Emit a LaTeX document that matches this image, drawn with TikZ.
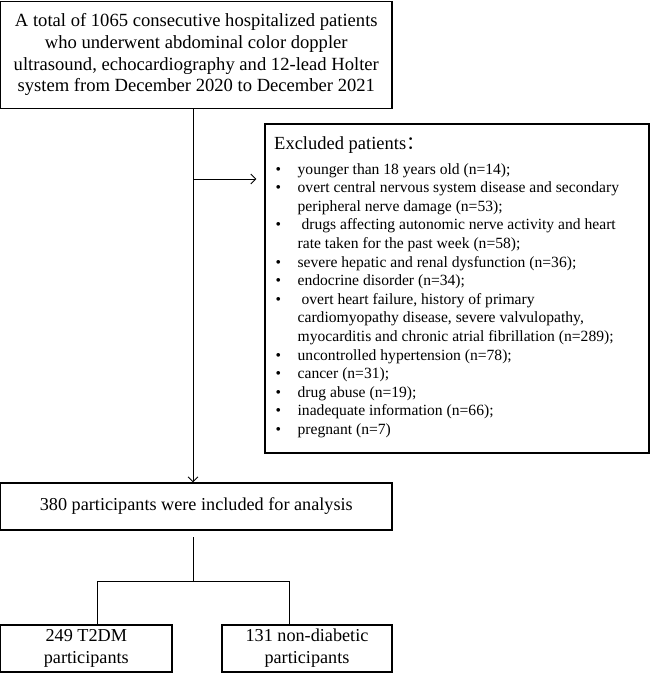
\documentclass[tikz,border=0pt]{standalone}
\usepackage{fontspec}
\setmainfont{Liberation Serif}
\newfontfamily\cjk{Noto Sans CJK SC}
\usetikzlibrary{arrows.meta}
\begin{document}
\begin{tikzpicture}[x=1pt,y=-1pt,
  box/.style={draw,line width=1.1pt,inner sep=0pt,align=center},
  conn/.style={line width=0.9pt},
  arr/.style={conn,-{Straight Barb[length=5pt,width=10pt,line width=0.9pt]}},
  bigtext/.style={font=\fontsize{18.6}{21.7}\selectfont},
  midtext/.style={font=\fontsize{18.2}{22}\selectfont}]
\useasboundingbox (0,0) rectangle (650,673);
\node[box,bigtext,minimum width=391.4pt,minimum height=107.4pt] (top) at (196.3,54.8)
  {A total of 1065 consecutive hospitalized patients\\
   who underwent abdominal color doppler\\
   ultrasound, echocardiography and 12-lead Holter\\
   system from December 2020 to December 2021};
\node[box,minimum width=384pt,minimum height=329pt] (excl) at (457,288.5) {};
\node[anchor=base west,inner sep=0pt,font=\fontsize{18.5}{20}\selectfont] (exhead) at (274,149)
  {Excluded patients{\cjk ：}};
\node[anchor=base west,inner sep=0pt,font=\fontsize{15.6}{18.6}\selectfont] (exlist) at (275.5,174)
  {\begin{tabular}[t]{@{}l@{\hspace{16.5pt}}l@{}}
   • & younger than 18 years old (n=14);\\
   • & overt central nervous system disease and secondary\\
     & peripheral nerve damage (n=53);\\
   • & \ drugs affecting autonomic nerve activity and heart\\
     & rate taken for the past week (n=58);\\
   • & severe hepatic and renal dysfunction (n=36);\\
   • & endocrine disorder (n=34);\\
   • & \ overt heart failure, history of primary\\
     & cardiomyopathy disease, severe valvulopathy,\\
     & myocarditis and chronic atrial fibrillation (n=289);\\
   • & uncontrolled hypertension (n=78);\\
   • & cancer (n=31);\\
   • & drug abuse (n=19);\\
   • & inadequate information (n=66);\\
   • & pregnant (n=7)
   \end{tabular}};
\node[box,midtext,minimum width=391.4pt,minimum height=47pt] (incl) at (196.3,506.5)
  {380 participants were included for analysis};
\node[box,midtext,minimum width=171.4pt,minimum height=47pt] (t2dm) at (86.3,648.5)
  {249 T2DM\\participants};
\node[box,midtext,minimum width=170pt,minimum height=47pt] (nond) at (307,648.5)
  {131 non-diabetic\\participants};
\coordinate (vx) at (193,0);
\coordinate (br) at (193,179);
\coordinate (s1) at (193,537);
\coordinate (s2) at (193,581);
\coordinate (hl) at (97,581);
\coordinate (hr) at (289,581);
\draw[arr] (vx |- top.south) -- (vx |- incl.north);
\draw[arr,shorten >=8pt] (br) -- (br -| excl.west);
\draw[conn] (s1) -- (s2);
\draw[conn] (hl |- t2dm.north) -- (hl) -- (hr) -- (hr |- nond.north);
\end{tikzpicture}
\end{document}
